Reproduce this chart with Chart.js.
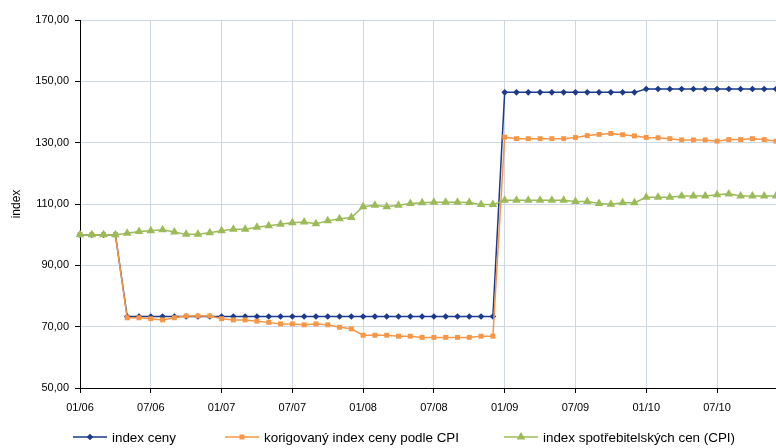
<!DOCTYPE html>
<html>
<head>
<meta charset="utf-8">
<script src="https://cdn.jsdelivr.net/npm/chart.js@4"></script>
<style>
  html, body { margin: 0; padding: 0; background: #fff; }
  #wrap { width: 776px; height: 448px; }
</style>
</head>
<body>
<div id="wrap"><canvas id="indexChart" width="776" height="448"></canvas></div>
<script>
const roky = ['06', '07', '08', '09', '10'];
const mesice = ['01', '02', '03', '04', '05', '06', '07', '08', '09', '10', '11', '12'];
const yTicks = [50, 70, 90, 110, 130, 150, 170];

const indexCeny = [
  100, 100, 100, 100, 73.3, 73.3, 73.3, 73.3, 73.3, 73.3, 73.3, 73.3,
  73.3, 73.3, 73.3, 73.3, 73.3, 73.3, 73.3, 73.3, 73.3, 73.3, 73.3, 73.3,
  73.3, 73.3, 73.3, 73.3, 73.3, 73.3, 73.3, 73.3, 73.3, 73.3, 73.3, 73.3,
  146.4, 146.4, 146.4, 146.4, 146.4, 146.4, 146.4, 146.4, 146.4, 146.4, 146.4, 146.4,
  147.5, 147.5, 147.5, 147.5, 147.5, 147.5, 147.5, 147.5, 147.5, 147.5, 147.5, 147.5
];
const korigovany = [
  100, 100, 100, 100, 72.9, 72.9, 72.6, 72.2, 72.9, 73.5, 73.5, 73.5,
  72.6, 72.2, 72.2, 71.8, 71.4, 70.9, 70.9, 70.6, 70.9, 70.6, 69.8, 69.3,
  67.2, 67.2, 67.2, 66.9, 66.9, 66.5, 66.5, 66.5, 66.5, 66.5, 66.9, 66.9,
  131.8, 131.3, 131.3, 131.3, 131.3, 131.3, 131.7, 132.3, 132.7, 133.0, 132.6, 132.2,
  131.7, 131.6, 131.3, 130.9, 130.9, 130.9, 130.5, 131.0, 131.0, 131.3, 131.0, 130.5
];
const cpi = [
  100, 100, 100, 100, 100.5, 101.0, 101.3, 101.6, 100.9, 100.1, 100.1, 100.6,
  101.3, 101.8, 101.8, 102.4, 102.9, 103.4, 103.9, 104.1, 103.6, 104.5, 105.2, 105.6,
  109.1, 109.6, 109.1, 109.6, 110.2, 110.4, 110.6, 110.6, 110.6, 110.5, 109.8, 109.8,
  111.2, 111.2, 111.2, 111.2, 111.2, 111.2, 110.8, 110.8, 110.2, 109.9, 110.4, 110.4,
  112.2, 112.2, 112.2, 112.6, 112.6, 112.6, 113.0, 113.3, 112.6, 112.6, 112.6, 112.6
];

const labels = [];
roky.forEach(r => mesice.forEach(m => labels.push(m + '/' + r)));

const barvy = {
  ceny: '#1b3a8c',
  korig: '#f79646',
  cpi: '#9bbb59'
};
const font = 'Liberation Sans, Arial, sans-serif';
const gridColor = '#cfd7e4';

// legenda kreslena rucne: cara se znackou uprostred
const legendaPlugin = {
  id: 'legenda',
  afterDraw(chart) {
    const c = chart.ctx;
    const polozky = [
      { x: 73, text: 'index ceny', ds: 0 },
      { x: 225, text: 'korigovaný index ceny podle CPI', ds: 1 },
      { x: 504, text: 'index spotřebitelských cen (CPI)', ds: 2 }
    ];
    const y = 437;
    c.save();
    polozky.forEach(p => {
      const ds = chart.data.datasets[p.ds];
      c.strokeStyle = ds.borderColor;
      c.lineWidth = 1.5;
      c.beginPath();
      c.moveTo(p.x, y);
      c.lineTo(p.x + 34, y);
      c.stroke();
      c.fillStyle = ds.borderColor;
      Chart.helpers.drawPoint(c, {
        pointStyle: ds.pointStyle,
        radius: ds.pointRadius,
        borderWidth: 0
      }, p.x + 17, y);
      c.fillStyle = '#000';
      c.font = '13.4px ' + font;
      c.textBaseline = 'middle';
      c.fillText(p.text, p.x + 39, y + 1);
    });
    c.restore();
  }
};

const ctx = document.getElementById('indexChart').getContext('2d');
const indexChart = new Chart(ctx, {
  type: 'line',
  data: {
    labels: labels,
    datasets: [
      {
        label: 'index ceny',
        data: indexCeny,
        borderColor: barvy.ceny,
        backgroundColor: barvy.ceny,
        borderWidth: 1.5,
        pointStyle: 'rectRot',
        pointRadius: 3.3,
        pointBorderWidth: 0,
        order: 3
      },
      {
        label: 'korigovaný index ceny podle CPI',
        data: korigovany,
        borderColor: barvy.korig,
        backgroundColor: barvy.korig,
        borderWidth: 1.5,
        pointStyle: 'rect',
        pointRadius: 3.5,
        pointBorderWidth: 0,
        order: 2
      },
      {
        label: 'index spotřebitelských cen (CPI)',
        data: cpi,
        borderColor: barvy.cpi,
        backgroundColor: barvy.cpi,
        borderWidth: 1.5,
        pointStyle: 'triangle',
        pointRadius: 5,
        pointBorderWidth: 0,
        order: 1
      }
    ]
  },
  options: {
    responsive: false,
    animation: false,
    layout: {
      autoPadding: false,
      padding: { top: 20, right: 0, bottom: 22, left: 0 }
    },
    scales: {
      x: {
        grid: {
          color: c => (c.index % 6 === 0 ? gridColor : 'transparent'),
          tickColor: c => (c.index % 6 === 0 ? '#000' : 'transparent'),
          tickLength: 5
        },
        border: { color: '#000', width: 1 },
        ticks: {
          autoSkip: false,
          maxRotation: 0,
          padding: 8,
          color: '#000',
          font: { family: font, size: 11 },
          callback: function(v, i) {
            return i % 6 === 0 ? this.getLabelForValue(v) : '';
          }
        },
        afterFit: s => {
          s.height = 38;
          s.paddingRight = 0;
        }
      },
      y: {
        min: 50,
        max: 170,
        afterBuildTicks: s => { s.ticks = yTicks.map(v => ({ value: v })); },
        grid: { color: gridColor, tickColor: '#000', tickLength: 5 },
        border: { color: '#000', width: 1 },
        ticks: {
          padding: 6,
          color: '#000',
          font: { family: font, size: 11 },
          callback: v => v.toFixed(2).replace('.', ',')
        },
        title: {
          display: true,
          text: 'index',
          color: '#000',
          font: { family: font, size: 12 },
          padding: { top: 9, bottom: 0 }
        },
        afterFit: s => { s.width = 80; }
      }
    },
    plugins: {
      legend: { display: false },
      tooltip: { enabled: false }
    }
  },
  plugins: [legendaPlugin]
});
</script>
</body>
</html>
